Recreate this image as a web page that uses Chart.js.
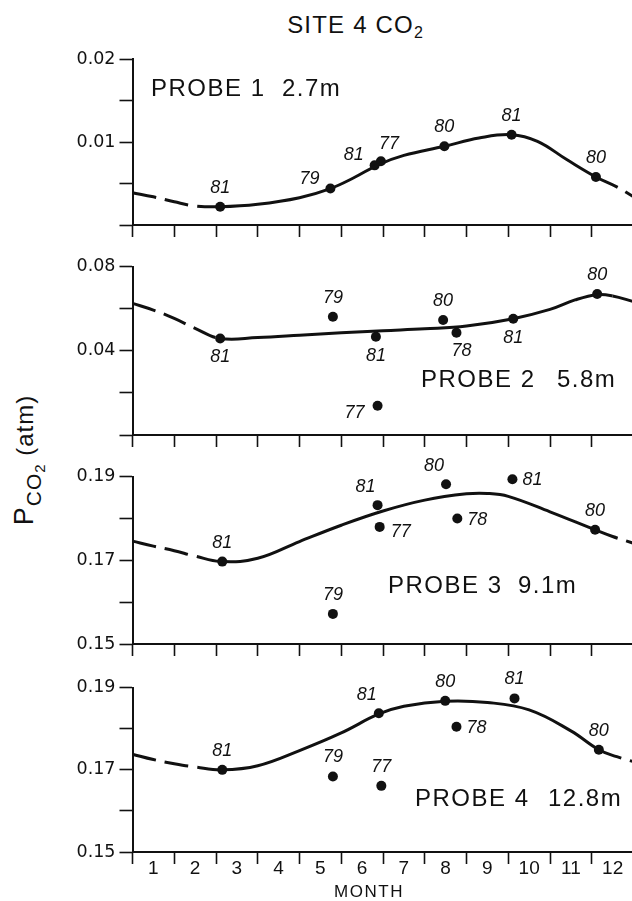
<!DOCTYPE html>
<html>
<head>
<meta charset="utf-8">
<script src="https://cdn.jsdelivr.net/npm/chart.js@4.4.0/dist/chart.umd.min.js"></script>
<style>
    html, body { margin: 0; padding: 0; background: #fff; overflow: hidden; width: 632px; height: 901px; }
    body { position: relative; font-family: "Liberation Sans", Arial, sans-serif; color: #111; }
    .panel { position: absolute; left: 0; }
    #title { position: absolute; left: 0; top: 11px; width: 710px; text-align: center; font-size: 24px; letter-spacing: 1.2px; white-space: nowrap; }
    #title sub { font-size: 16px; vertical-align: -5px; letter-spacing: 0; }
    #ylabel { position: absolute; left: -76px; top: 445px; width: 200px; height: 30px; line-height: 30px; text-align: center; white-space: nowrap; transform: rotate(-90deg); letter-spacing: 1px; }
</style>
</head>
<body>
<div id="title">SITE 4 CO<sub>2</sub></div>
<div id="ylabel"><span style="font-size:27px">P</span><span style="font-size:21px; position:relative; top:8px">CO<span style="font-size:15px; position:relative; top:4px">2</span></span><span style="font-size:24px"> (atm)</span></div>
<canvas id="probe1" class="panel"></canvas>
<canvas id="probe2" class="panel"></canvas>
<canvas id="probe3" class="panel"></canvas>
<canvas id="probe4" class="panel"></canvas>
<script>
// month axis runs 0..12, label n sits between tick n-1 and tick n
const months = ['1', '2', '3', '4', '5', '6', '7', '8', '9', '10', '11', '12']

// probe 1 - 2.7m
const probe1_month = [2.1, 4.74, 5.8, 5.95, 7.47, 9.08, 11.1]
const probe1_pco2 = [0.0022, 0.0044, 0.0072, 0.0077, 0.0095, 0.0109, 0.0058]
const probe1_year = ['81', '79', '81', '77', '80', '81', '80']
const probe1_fit_month = [0, 0.5, 1, 1.5, 2.1, 3, 4, 4.74, 5.3, 5.9, 6.5, 7.47, 8.3, 9.08, 9.7, 10.4, 11.1, 11.6, 12]
const probe1_fit_pco2 = [0.0039, 0.0034, 0.0028, 0.0023, 0.0022, 0.0025, 0.0033, 0.0044, 0.0057, 0.0073, 0.0084, 0.0095, 0.0105, 0.0109, 0.0101, 0.0079, 0.0058, 0.0046, 0.0034]
const probe1_ticks = ['0.01', '0.02']

// probe 2 - 5.8m
const probe2_month = [2.1, 4.8, 5.83, 5.87, 7.44, 7.76, 9.12, 11.13]
const probe2_pco2 = [0.0459, 0.0562, 0.0467, 0.0139, 0.0547, 0.0486, 0.0553, 0.0670]
const probe2_year = ['81', '79', '81', '77', '80', '78', '81', '80']
const probe2_fit_month = [0, 0.5, 1, 1.5, 2.1, 3, 4, 5, 6, 7, 8, 9.12, 10, 10.6, 11.13, 11.5, 12]
const probe2_fit_pco2 = [0.0626, 0.0594, 0.0554, 0.0507, 0.0459, 0.0463, 0.0474, 0.0486, 0.0496, 0.0505, 0.0518, 0.0553, 0.0597, 0.0642, 0.0667, 0.0661, 0.0634]
const probe2_ticks = ['0.04', '0.08']

// probe 3 - 9.1m
const probe3_month = [2.15, 4.8, 5.87, 5.92, 7.51, 7.78, 9.1, 11.08]
const probe3_pco2 = [0.1697, 0.1572, 0.1832, 0.1780, 0.1882, 0.1800, 0.1894, 0.1773]
const probe3_year = ['81', '79', '81', '77', '80', '78', '81', '80']
const probe3_fit_month = [0, 0.5, 1, 1.5, 2.15, 3, 4, 5, 6, 7, 8, 8.5, 9, 10, 11.08, 11.5, 12]
const probe3_fit_pco2 = [0.1746, 0.1734, 0.1723, 0.1710, 0.1697, 0.1705, 0.1745, 0.1784, 0.1818, 0.1844, 0.1859, 0.1860, 0.1853, 0.1816, 0.1773, 0.1757, 0.1741]
const probe3_ticks = ['0.15', '0.17', '0.19']

// probe 4 - 12.8m
const probe4_month = [2.15, 4.8, 5.9, 5.96, 7.49, 7.76, 9.15, 11.17]
const probe4_pco2 = [0.1700, 0.1684, 0.1838, 0.1661, 0.1868, 0.1805, 0.1874, 0.1749]
const probe4_year = ['81', '79', '81', '77', '80', '78', '81', '80']
const probe4_fit_month = [0, 0.5, 1, 1.5, 2.15, 3, 4, 5, 5.9, 6.5, 7.49, 8.5, 9.5, 10.5, 11.17, 11.6, 12]
const probe4_fit_pco2 = [0.1738, 0.1725, 0.1715, 0.1707, 0.1700, 0.1710, 0.1747, 0.1790, 0.1836, 0.1855, 0.1867, 0.1864, 0.1846, 0.1795, 0.1749, 0.1732, 0.1720]
const probe4_ticks = ['0.15', '0.17', '0.19']

const ink = '#111'
const font_family = '"Liberation Sans", Arial, sans-serif'

// where the year label sits next to its dot
const side_offset = {
    N: [0, -19], S: [0, 19], NW: [-12, -18], WNW: [-21, -10], NE: [8, -17],
    E: [20, 1], ESE: [21, 5], W: [-23, 7], SE: [5, 18]
}

const year_labels = {
    id: 'year_labels',
    afterDatasetsDraw(chart) {
        let ctx = chart.ctx
        chart.data.datasets.forEach((ds, i) => {
            if (!ds.years) return
            let meta = chart.getDatasetMeta(i)
            ctx.save()
            ctx.font = 'italic 18px ' + font_family
            ctx.fillStyle = ink
            ctx.textAlign = 'center'
            ctx.textBaseline = 'middle'
            meta.data.forEach((pt, j) => {
                let off = side_offset[ds.sides[j]]
                ctx.fillText(ds.years[j], pt.x + off[0], pt.y + off[1])
            })
            ctx.restore()
        })
    }
}

const notes = {
    id: 'notes',
    afterDraw(chart, args, opts) {
        let ctx = chart.ctx
        let area = chart.chartArea
        ctx.save()
        ctx.fillStyle = ink
        ctx.textBaseline = 'middle'
        ;(opts.items || []).forEach(n => {
            ctx.font = n.font + ' ' + font_family
            ctx.textAlign = n.align || 'left'
            ctx.letterSpacing = n.spacing || '0px'
            ctx.fillText(n.text, area.left + n.x, area.top + n.y)
        })
        ctx.restore()
    }
}

function probe_notes(name, depth, x1, x2, y) {
    return [
        { text: name, x: x1, y: y, font: '24px', spacing: '1.5px' },
        { text: depth, x: x2, y: y, font: '24px', spacing: '1.5px' }
    ]
}

function make_panel(p) {
    let canvas = document.getElementById(p.id)
    let canvas_top = Math.floor(p.top) - 45
    let canvas_h = Math.round(p.bottom - canvas_top + p.axis_h)
    let x_axis_h = canvas_h - (p.bottom - canvas_top)
    canvas.style.top = canvas_top + 'px'
    canvas.width = 640
    canvas.height = canvas_h

    new Chart(canvas, {
        type: 'scatter',
        data: {
            datasets: [
                {
                    data: p.fit_month.map((m, i) => ({x: m, y: p.fit_pco2[i]})),
                    showLine: true,
                    pointRadius: 0,
                    borderColor: ink,
                    borderWidth: 3,
                    tension: 0.4,
                    segment: {
                        borderDash: ctx => (ctx.p0.parsed.x < p.solid[0] - 1e-6 || ctx.p1.parsed.x > p.solid[1] + 1e-6) ? [24, 9] : undefined
                    }
                },
                {
                    data: p.month.map((m, i) => ({x: m, y: p.pco2[i]})),
                    pointRadius: 5,
                    pointBackgroundColor: ink,
                    pointBorderWidth: 0,
                    clip: false,
                    years: p.year,
                    sides: p.sides
                }
            ]
        },
        options: {
            responsive: false,
            animation: false,
            events: [],
            layout: { padding: { top: p.top - canvas_top, right: 6.5, left: 0, bottom: 0 } },
            plugins: {
                legend: { display: false },
                tooltip: { enabled: false },
                notes: { items: p.notes }
            },
            scales: {
                x: {
                    type: 'linear',
                    min: 0,
                    max: 12,
                    afterFit: s => { s.height = x_axis_h },
                    grid: {
                        drawOnChartArea: false,
                        tickLength: 12,
                        tickWidth: 1.6,
                        tickColor: c => (c.tick && c.tick.value % 1 === 0) ? ink : 'rgba(0,0,0,0)'
                    },
                    border: { color: ink, width: 2 },
                    ticks: {
                        display: p.show_months,
                        stepSize: 0.5,
                        autoSkip: false,
                        maxRotation: 0,
                        padding: -7,
                        color: ink,
                        font: { size: 19, family: font_family },
                        callback: v => (v % 1 === 0.5) ? months[Math.floor(v)] : ''
                    }
                },
                y: {
                    min: p.y_min,
                    max: p.y_max,
                    afterFit: s => { s.width = 132.5 },
                    grid: { drawOnChartArea: false, tickLength: 13, tickWidth: 1.6, tickColor: ink },
                    border: { color: ink, width: 2 },
                    ticks: {
                        stepSize: p.y_step,
                        padding: 4,
                        color: ink,
                        font: { size: 17.5, family: '"DejaVu Sans", sans-serif' },
                        callback: v => p.ticks.find(t => Math.abs(parseFloat(t) - v) < 1e-9) || ''
                    }
                }
            }
        },
        plugins: [year_labels, notes]
    })
}

make_panel({
    id: 'probe1', top: 59.3, bottom: 225, axis_h: 20, show_months: false,
    y_min: 0, y_max: 0.02, y_step: 0.005, ticks: probe1_ticks,
    month: probe1_month, pco2: probe1_pco2, year: probe1_year,
    sides: ['N', 'WNW', 'WNW', 'NE', 'N', 'N', 'N'],
    fit_month: probe1_fit_month, fit_pco2: probe1_fit_pco2, solid: [2.1, 11.1],
    notes: probe_notes('PROBE 1', '2.7m', 18.5, 149.5, 30.5)
})

make_panel({
    id: 'probe2', top: 266.7, bottom: 435, axis_h: 20, show_months: false,
    y_min: 0, y_max: 0.08, y_step: 0.02, ticks: probe2_ticks,
    month: probe2_month, pco2: probe2_pco2, year: probe2_year,
    sides: ['S', 'N', 'S', 'W', 'N', 'SE', 'S', 'N'],
    fit_month: probe2_fit_month, fit_pco2: probe2_fit_pco2, solid: [2.1, 11.5],
    notes: probe_notes('PROBE 2', '5.8m', 288.5, 424.5, 113.5)
})

make_panel({
    id: 'probe3', top: 476.7, bottom: 644, axis_h: 20, show_months: false,
    y_min: 0.15, y_max: 0.19, y_step: 0.01, ticks: probe3_ticks,
    month: probe3_month, pco2: probe3_pco2, year: probe3_year,
    sides: ['N', 'N', 'NW', 'ESE', 'NW', 'E', 'E', 'N'],
    fit_month: probe3_fit_month, fit_pco2: probe3_fit_pco2, solid: [2.15, 11.08],
    notes: probe_notes('PROBE 3', '9.1m', 255.5, 385.5, 109.5)
})

make_panel({
    id: 'probe4', top: 687.7, bottom: 852, axis_h: 49, show_months: true,
    y_min: 0.15, y_max: 0.19, y_step: 0.01, ticks: probe4_ticks,
    month: probe4_month, pco2: probe4_pco2, year: probe4_year,
    sides: ['N', 'N', 'NW', 'N', 'N', 'E', 'N', 'N'],
    fit_month: probe4_fit_month, fit_pco2: probe4_fit_pco2, solid: [2.15, 11.17],
    notes: probe_notes('PROBE 4', '12.8m', 282.5, 415.5, 112).concat([
        { text: 'MONTH', x: 236.5, y: 204.5, font: '17px', align: 'center', spacing: '1.5px' }
    ])
})
</script>
</body>
</html>
